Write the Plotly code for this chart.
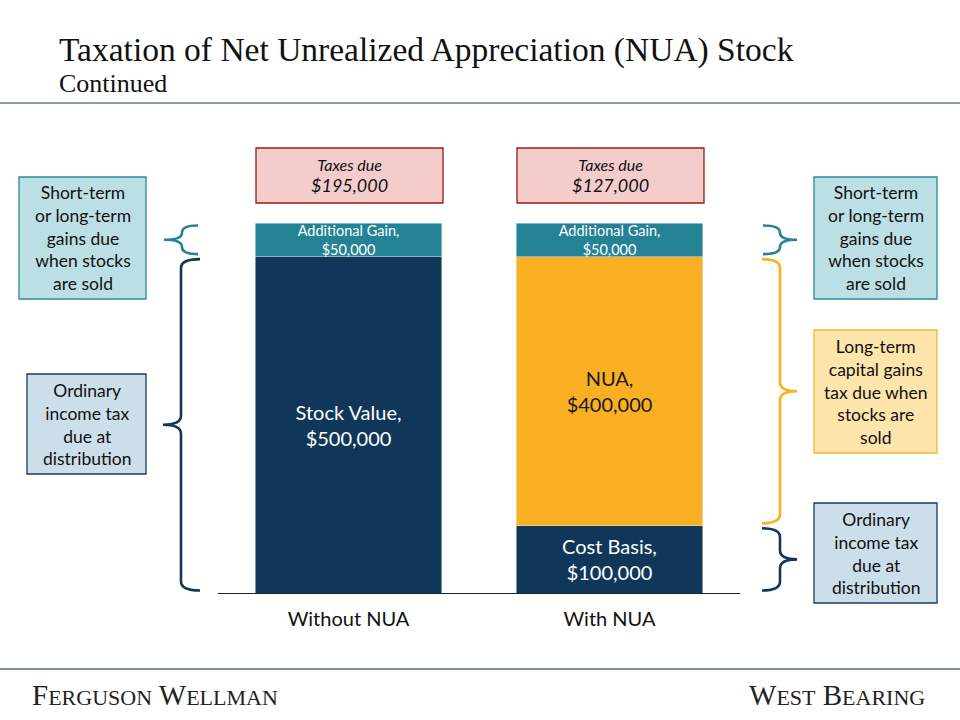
import plotly.graph_objects as go

# ---------------- data ----------------
categories = ["Without NUA", "With NUA"]
base_values = [500000, 100000]          # Stock Value / Cost Basis
base_labels = ["Stock Value,<br>$500,000", "Cost Basis,<br>$100,000"]
nua_values = [0, 400000]
nua_labels = ["", "NUA,<br>$400,000"]
gain_values = [50000, 50000]
gain_labels = ["Additional Gain,<br>$50,000", "Additional Gain,<br>$50,000"]
taxes_due = ["$195,000", "$127,000"]

NAVY = "#10375a"
TEAL = "#238293"
ORANGE = "#fbb024"
FONT = "Lato"
SERIF = "Liberation Serif"

W, H = 960, 720
OX, OY = 0, 0   # body margin removed via post_script
L, R, T, B = 218 - OX, W - (740 - OX), 223 - OY, H - (593 - OY)
PW, PH = W - L - R, H - T - B
YMAX = max(b + n + g for b, n, g in zip(base_values, nua_values, gain_values))


def px(x):
    return (x - OX - L) / PW


def py(y):
    return (H - B - (y - OY)) / PH


def dy(pixels):
    return pixels / PH * YMAX


fig = go.Figure()
fig.add_trace(go.Bar(x=categories, y=base_values, marker_color=NAVY, text=base_labels,
                     textposition="inside", insidetextanchor="middle",
                     textfont=dict(family=FONT, size=20, color="white"),
                     constraintext="none", hoverinfo="skip"))
fig.add_trace(go.Bar(x=categories, y=nua_values, marker_color=ORANGE, text=nua_labels,
                     textposition="inside", insidetextanchor="middle",
                     textfont=dict(family=FONT, size=20, color="#1a1a1a"),
                     constraintext="none", hoverinfo="skip"))
fig.add_trace(go.Bar(x=categories, y=gain_values, marker_color=TEAL, text=gain_labels,
                     textposition="inside", insidetextanchor="middle",
                     textfont=dict(family=FONT, size=14.5, color="white"),
                     constraintext="none", hoverinfo="skip"))

shapes = []
annotations = []

# header / footer lines
shapes.append(dict(type="line", xref="paper", yref="paper", x0=px(0), x1=px(W),
                   y0=py(103), y1=py(103), line=dict(color="#8a9bab", width=2)))
shapes.append(dict(type="line", xref="paper", yref="paper", x0=px(0), x1=px(W),
                   y0=py(669), y1=py(669), line=dict(color="#50708e", width=1.5)))

annotations.append(dict(text="Taxation of Net Unrealized Appreciation (NUA) Stock", xref="paper", yref="paper",
                        x=px(57), y=py(50), xanchor="left", yanchor="middle", showarrow=False,
                        font=dict(family=SERIF, size=33.5, color="#111")))
annotations.append(dict(text="Continued", xref="paper", yref="paper",
                        x=px(57), y=py(83), xanchor="left", yanchor="middle", showarrow=False,
                        font=dict(family=SERIF, size=26, color="#111")))
annotations.append(dict(text="F<span style='font-size:22px'>ERGUSON</span> W<span style='font-size:22px'>ELLMAN</span>",
                        xref="paper", yref="paper", x=px(30), y=py(695), xanchor="left", yanchor="middle",
                        showarrow=False, font=dict(family=SERIF, size=29, color="#222")))
annotations.append(dict(text="W<span style='font-size:22px'>EST</span> B<span style='font-size:22px'>EARING</span>",
                        xref="paper", yref="paper", x=px(927), y=py(695), xanchor="right", yanchor="middle",
                        showarrow=False, font=dict(family=SERIF, size=29, color="#222")))


def box(x0, y0, x1, y1, fill, border, text, italic=False, size=17.5):
    shapes.append(dict(type="rect", xref="paper", yref="paper", x0=px(x0), x1=px(x1),
                       y0=py(y0), y1=py(y1), fillcolor=fill, line=dict(color=border, width=1.3)))
    annotations.append(dict(text=text, xref="paper", yref="paper", x=px((x0 + x1) / 2),
                            y=py((y0 + y1) / 2), xanchor="center", yanchor="middle", showarrow=False,
                            align="center",
                            font=dict(family=FONT, size=size, color="#111",
                                      style="italic" if italic else "normal")))


# taxes due boxes above bars
for i, t in enumerate(taxes_due):
    x0 = 256 if i == 0 else 517
    box(x0, 148, x0 + 187, 203, "#f4cccc", "#9b1b1b", "Taxes due<br><span style='font-size:18px'>" + t + "</span>",
        italic=True, size=16)

box(19, 177, 146, 299, "#bbdfe4", "#2b8a98", "Short-term<br>or long-term<br>gains due<br>when stocks<br>are sold")
box(27, 374, 146, 474, "#cbdeea", "#163b5e", "Ordinary<br>income tax<br>due at<br>distribution")
box(814, 177, 937, 299, "#bbdfe4", "#2b8a98", "Short-term<br>or long-term<br>gains due<br>when stocks<br>are sold")
box(814, 330, 937, 453, "#fde5ab", "#f6b42c", "Long-term<br>capital gains<br>tax due when<br>stocks are<br>sold")
box(814, 503, 937, 603, "#cbdeea", "#163b5e", "Ordinary<br>income tax<br>due at<br>distribution")


def brace(xv_px, xend_px, xtip_px, ylo, yhi, color):
    xv, xe, xt = px(xv_px), px(xend_px), px(xtip_px)
    ym = (ylo + yhi) / 2
    r = min(dy(9), (yhi - ylo) / 4)
    path = (f"M {xe},{yhi} Q {xv},{yhi} {xv},{yhi - r} L {xv},{ym + r} "
            f"Q {xv},{ym} {xt},{ym} Q {xv},{ym} {xv},{ym - r} L {xv},{ylo + r} "
            f"Q {xv},{ylo} {xe},{ylo}")
    shapes.append(dict(type="path", xref="paper", yref="y", path=path,
                       line=dict(color=color, width=2.6)))


g = dy(2.5)
top0 = base_values[0] + nua_values[0] + gain_values[0]
# left side (Without NUA)
brace(182, 198, 164, base_values[0] + g, top0 - g, TEAL)
brace(181, 200, 163, g, base_values[0] - g, NAVY)
# right side (With NUA)
b1 = base_values[1]
n1 = b1 + nua_values[1]
t1 = n1 + gain_values[1]
brace(780, 763, 797, n1 + g, t1 - g, TEAL)
brace(780, 762, 797, b1 + g, n1 - g, ORANGE)
brace(780, 762, 797, g, b1 - g, NAVY)

fig.update_layout(
    width=W, height=H, barmode="stack", bargap=0.284, showlegend=False,
    margin=dict(l=L, r=R, t=T, b=B), paper_bgcolor="white", plot_bgcolor="white",
    xaxis=dict(showline=True, linecolor="#222", linewidth=1, ticks="", showgrid=False,
               tickfont=dict(family=FONT, size=20, color="#111"), range=[-0.5, 1.5],
               ticklabelstandoff=8),
    yaxis=dict(range=[0, YMAX], showgrid=False, showticklabels=False, zeroline=False),
    shapes=shapes, annotations=annotations,
)

fig.write_html("out.html", config={"displayModeBar": False},
               post_script="document.body.style.margin='0px';document.body.style.overflow='hidden';")
